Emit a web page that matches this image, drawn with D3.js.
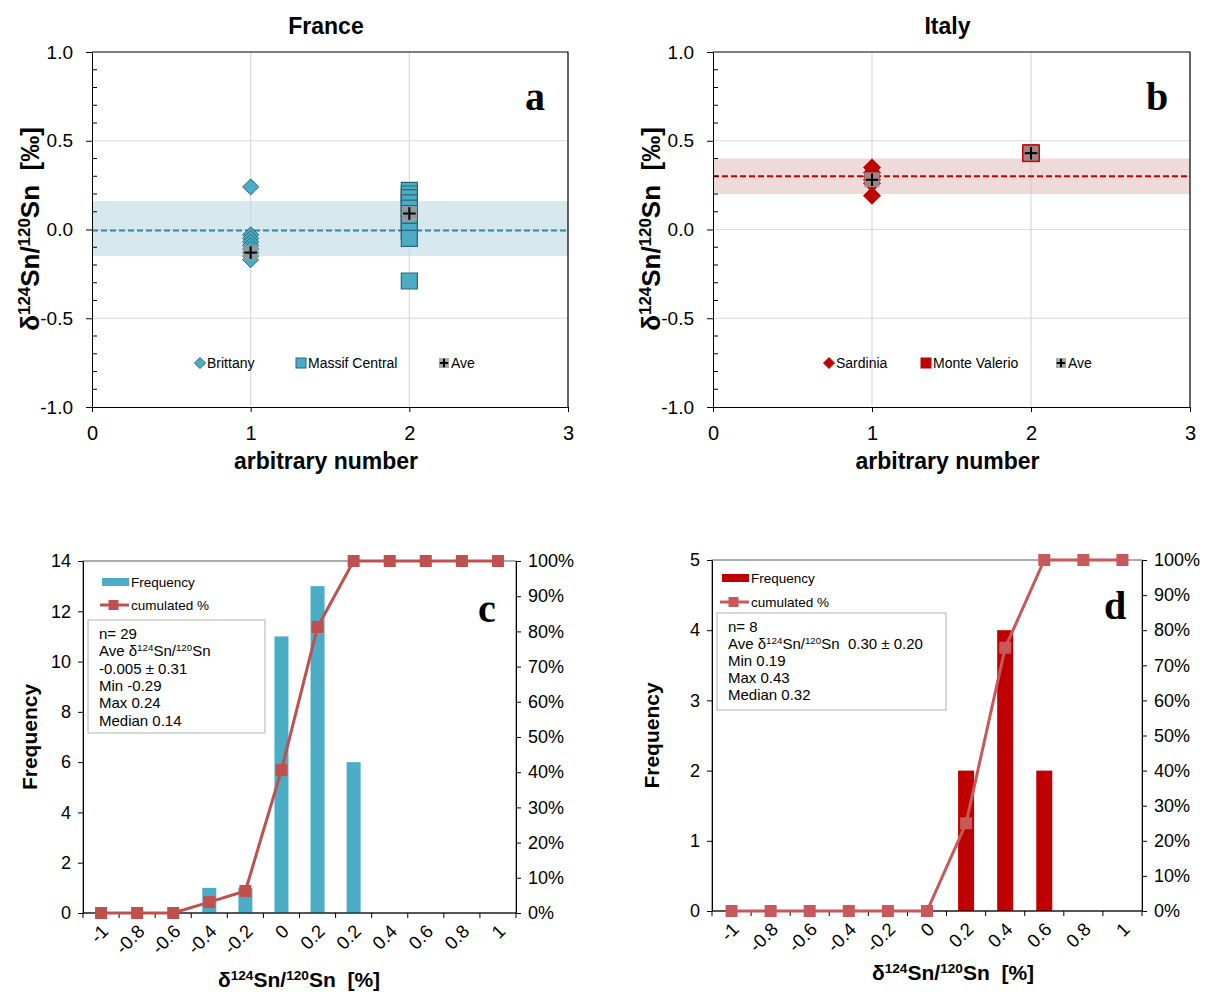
<!DOCTYPE html>
<html><head><meta charset="utf-8">
<script src="https://cdn.jsdelivr.net/npm/d3@7"></script>
<style>body{margin:0;background:#fff}svg{font-family:"Liberation Sans",Arial,sans-serif}</style>
</head><body>
<svg id="chart" width="1211" height="992"></svg>
<script>
// ---------- DATA ----------
const scatterXTicks = [0, 1, 2, 3];
const scatterYTicks = [-1, -0.5, 0, 0.5, 1];
// France (panel a)
const brittany = [0.24, -0.03, -0.05, -0.07, -0.09, -0.11, -0.13, -0.15, -0.17];
const massifCentral = [0.22, 0.20, 0.18, 0.15, 0.12, 0.09, 0.06, 0.03, -0.01, -0.05, -0.29];
const franceAveX = [1, 2];
const franceAve = [-0.13, 0.09];
const franceMean = -0.005;
const franceBand = [-0.15, 0.16];
// Italy (panel b)
const sardinia = [0.35, 0.32, 0.30, 0.28, 0.26, 0.19];
const monteValerio = [0.43];
const italyAveX = [1, 2];
const italyAve = [0.28, 0.43];
const italyMean = 0.30;
const italyBand = [0.20, 0.40];
// Histogram France (panel c)
const franceBins = ["-1", "-0.8", "-0.6", "-0.4", "-0.2", "0", "0.2", "0.2", "0.4", "0.6", "0.8", "1"];
const franceFreq = [0, 0, 0, 1, 1, 11, 13, 6, 0, 0, 0, 0];
const franceCum = [0, 0, 0, 0.031, 0.0625, 0.406, 0.8125, 1, 1, 1, 1, 1];
const franceFreqTicks = [0, 2, 4, 6, 8, 10, 12, 14];
// Histogram Italy (panel d)
const italyBins = ["-1", "-0.8", "-0.6", "-0.4", "-0.2", "0", "0.2", "0.4", "0.6", "0.8", "1"];
const italyFreq = [0, 0, 0, 0, 0, 0, 2, 4, 2, 0, 0];
const italyCum = [0, 0, 0, 0, 0, 0, 0.25, 0.75, 1, 1, 1];
const italyFreqTicks = [0, 1, 2, 3, 4, 5];
const pctTicks = [0, 0.1, 0.2, 0.3, 0.4, 0.5, 0.6, 0.7, 0.8, 0.9, 1];
// ---------- END DATA ----------

const NB = "\u00a0";
const svg = d3.select("#chart");

function rich(sel, parts) {
  parts.forEach(p => {
    if (typeof p === "string") sel.append("tspan").text(p);
    else sel.append("tspan").attr("baseline-shift", "super").attr("font-size", "65%").text(p.sup);
  });
  return sel;
}
const deltaParts = ["δ", {sup: "124"}, "Sn/", {sup: "120"}, "Sn"];

function diamondPath(r) { return `M0,${-r}L${r},0L0,${r}L${-r},0Z`; }

function aveMarker(g, cx, cy, s) {
  const m = g.append("g").attr("transform", `translate(${cx},${cy})`);
  m.append("rect").attr("x", -s/2).attr("y", -s/2).attr("width", s).attr("height", s)
    .attr("fill", "#9a9a9a").attr("fill-opacity", 0.85);
  const h = s * 0.42;
  m.append("line").attr("x1", -h).attr("x2", h).attr("stroke", "#000").attr("stroke-width", 2);
  m.append("line").attr("y1", -h).attr("y2", h).attr("stroke", "#000").attr("stroke-width", 2);
}

function styleAxis(g, size) {
  g.attr("font-family", null).attr("font-size", null);
  g.selectAll("text").attr("font-size", size).attr("fill", "#000");
  g.selectAll("line,path").attr("stroke", "#000");
}

function scatterPanel(cfg) {
  const g = svg.append("g");
  const x = d3.scaleLinear().domain([0, 3]).range([cfg.left, cfg.right]);
  const y = d3.scaleLinear().domain([-1, 1]).range([407, 52]);
  // grid
  g.selectAll(".vg").data([1, 2]).join("line")
    .attr("x1", d => x(d)).attr("x2", d => x(d)).attr("y1", y(1)).attr("y2", y(-1))
    .attr("stroke", "#d9d9d9").attr("stroke-width", 1.2);
  g.selectAll(".hg").data([-0.5, 0, 0.5]).join("line")
    .attr("x1", x(0)).attr("x2", x(3)).attr("y1", d => y(d)).attr("y2", d => y(d))
    .attr("stroke", "#d9d9d9").attr("stroke-width", 1.2);
  // band
  g.append("rect").attr("x", x(0)).attr("width", x(3) - x(0))
    .attr("y", y(cfg.band[1])).attr("height", y(cfg.band[0]) - y(cfg.band[1]))
    .attr("fill", cfg.bandColor).attr("fill-opacity", cfg.bandOpacity);
  g.append("line").attr("x1", x(0)).attr("x2", x(3)).attr("y1", y(cfg.mean)).attr("y2", y(cfg.mean))
    .attr("stroke", cfg.dashColor).attr("stroke-width", 2).attr("stroke-dasharray", "6,3");
  // axes
  const ya = g.append("g").attr("transform", `translate(${x(0)},0)`)
    .call(d3.axisLeft(y).tickValues(scatterYTicks).tickFormat(d => d.toFixed(1)).tickSize(6).tickSizeOuter(0).tickPadding(13));
  styleAxis(ya, "19px");
  g.selectAll(".minor").data(d3.range(-9, 10).filter(k => k % 5 !== 0).map(k => k / 10)).join("line")
    .attr("x1", x(0)).attr("x2", x(0) + 5).attr("y1", d => y(d)).attr("y2", d => y(d)).attr("stroke", "#000");
  const xa = g.append("g").attr("transform", `translate(0,${y(-1)})`)
    .call(d3.axisBottom(x).tickValues(scatterXTicks).tickFormat(d3.format("d")).tickSize(5).tickSizeOuter(0).tickPadding(14));
  styleAxis(xa, "20px");
  // frame top & right
  g.append("path").attr("d", `M${x(0)},${y(1)}H${x(3)}V${y(-1)}`).attr("fill", "none").attr("stroke", "#000").attr("stroke-width", 1.2);
  // series
  cfg.series.forEach(s => {
    g.selectAll(null).data(s.values).join("path")
      .attr("transform", d => `translate(${x(s.x)},${y(d)})`)
      .attr("d", s.shape === "diamond" ? diamondPath(s.size) : d3.symbol(d3.symbolSquare, s.size * s.size * 4)())
      .attr("fill", s.fill).attr("stroke", s.stroke).attr("stroke-width", s.sw || 1);
  });
  cfg.aveX.forEach((ax, i) => aveMarker(g, x(ax), y(cfg.ave[i]), 15));
  // titles
  g.append("text").attr("x", (x(0) + x(3)) / 2 - 4).attr("y", 34).attr("text-anchor", "middle")
    .attr("font-weight", "bold").attr("font-size", "23px").text(cfg.title);
  g.append("text").attr("x", (x(0) + x(3)) / 2 - 4).attr("y", 469).attr("text-anchor", "middle")
    .attr("font-weight", "bold").attr("font-size", "23px").text("arbitrary" + NB + "number");
  const yt = g.append("text").attr("transform", `translate(${x(0) - 53},229) rotate(-90)`)
    .attr("text-anchor", "middle").attr("font-weight", "bold").attr("font-size", "26px");
  rich(yt, [...deltaParts, NB + NB + "[‰]"]);
  g.append("text").attr("x", x(3) - 33).attr("y", 110).attr("text-anchor", "middle")
    .attr("font-family", "'Liberation Serif','Times New Roman',serif").attr("font-weight", "bold")
    .attr("font-size", "40px").text(cfg.letter);
  // legend
  const ly = 363;
  cfg.legend.forEach(L => {
    if (L.shape === "diamond") g.append("path").attr("transform", `translate(${L.mx},${ly})`).attr("d", diamondPath(5.5)).attr("fill", L.fill).attr("stroke", L.stroke);
    else if (L.shape === "square") g.append("rect").attr("x", L.mx - 5).attr("y", ly - 5).attr("width", 10).attr("height", 10).attr("fill", L.fill).attr("stroke", L.stroke);
    else aveMarker(g, L.mx, ly, 10);
    g.append("text").attr("x", L.mx + 7).attr("y", ly + 5).attr("font-size", "14px").text(L.text);
  });
}

scatterPanel({
  left: 92, right: 568, title: "France", letter: "a",
  band: franceBand, mean: franceMean, bandColor: "#bcd9e2", bandOpacity: 0.6, dashColor: "#2e8aa3",
  series: [
    {x: 1, values: brittany, shape: "diamond", size: 8, fill: "#4bacc6", stroke: "#2a6676"},
    {x: 2, values: massifCentral, shape: "square", size: 8, fill: "#4bacc6", stroke: "#2a6676", sw: 1.2}
  ],
  aveX: franceAveX, ave: franceAve,
  legend: [
    {mx: 200, shape: "diamond", fill: "#4bacc6", stroke: "#2a6676", text: "Brittany"},
    {mx: 301, shape: "square", fill: "#4bacc6", stroke: "#2a6676", text: "Massif Central"},
    {mx: 444, shape: "ave", text: "Ave"}
  ]
});

scatterPanel({
  left: 713, right: 1190, title: "Italy", letter: "b",
  band: italyBand, mean: italyMean, bandColor: "#dfb5b5", bandOpacity: 0.5, dashColor: "#c00000",
  series: [
    {x: 1, values: sardinia, shape: "diamond", size: 8.5, fill: "#c00000", stroke: "#c00000"},
    {x: 2, values: monteValerio, shape: "square", size: 8.5, fill: "#c00000", stroke: "#c00000"}
  ],
  aveX: italyAveX, ave: italyAve,
  legend: [
    {mx: 829, shape: "diamond", fill: "#c00000", stroke: "#c00000", text: "Sardinia"},
    {mx: 926, shape: "square", fill: "#c00000", stroke: "#c00000", text: "Monte Valerio"},
    {mx: 1061, shape: "ave", text: "Ave"}
  ]
});

function histPanel(cfg) {
  const g = svg.append("g");
  const x = d3.scaleBand().domain(d3.range(cfg.bins.length)).range([cfg.left, cfg.right]).padding(0);
  const bw = x.bandwidth();
  const y = d3.scaleLinear().domain([0, cfg.ymax]).range([cfg.bottom, cfg.top]);
  const y2 = d3.scaleLinear().domain([0, 1]).range([cfg.bottom, cfg.top]);
  // frame
  g.append("rect").attr("x", cfg.left).attr("y", cfg.top).attr("width", cfg.right - cfg.left).attr("height", cfg.bottom - cfg.top)
    .attr("fill", "none").attr("stroke", "#595959").attr("stroke-width", 1);
  // bars
  g.selectAll(".bar").data(cfg.freq).join("rect")
    .attr("x", (d, i) => x(i) + (bw - cfg.barW) / 2).attr("width", cfg.barW)
    .attr("y", d => y(d)).attr("height", d => y(0) - y(d)).attr("fill", cfg.barColor);
  // axes
  const ya = g.append("g").attr("transform", `translate(${cfg.left},0)`)
    .call(d3.axisLeft(y).tickValues(cfg.yticks).tickFormat(d3.format("d")).tickSize(5).tickSizeOuter(0).tickPadding(7));
  styleAxis(ya, "18px");
  const yb = g.append("g").attr("transform", `translate(${cfg.right},0)`)
    .call(d3.axisRight(y2).tickValues(pctTicks).tickFormat(d3.format(".0%")).tickSize(5).tickSizeOuter(0).tickPadding(7));
  styleAxis(yb, "18px");
  const bounds = x.domain().map(i => x(i)).concat([cfg.right]);
  g.append("line").attr("x1", cfg.left).attr("x2", cfg.right).attr("y1", cfg.bottom).attr("y2", cfg.bottom).attr("stroke", "#000").attr("stroke-width", 1.2);
  g.selectAll(".xt").data(bounds).join("line")
    .attr("x1", d => d).attr("x2", d => d).attr("y1", cfg.bottom).attr("y2", cfg.bottom + 5).attr("stroke", "#000");
  g.selectAll(".xl").data(cfg.bins).join("text")
    .attr("transform", (d, i) => `translate(${x(i) + bw / 2 + 4},${cfg.bottom + 15}) rotate(-45)`)
    .attr("text-anchor", "end").attr("dy", "0.35em").attr("font-size", "18.5px").text(d => d);
  // cumulative line
  const line = d3.line().x((d, i) => x(i) + bw / 2).y(d => y2(d));
  g.append("path").datum(cfg.cum).attr("d", line).attr("fill", "none").attr("stroke", cfg.lineColor).attr("stroke-width", 3);
  g.selectAll(".pt").data(cfg.cum).join("rect")
    .attr("x", (d, i) => x(i) + bw / 2 - 6).attr("y", d => y2(d) - 6).attr("width", 12).attr("height", 12)
    .attr("fill", cfg.lineColor);
  // titles
  g.append("text").attr("transform", `translate(${cfg.ytitleX},${(cfg.top + cfg.bottom) / 2}) rotate(-90)`)
    .attr("text-anchor", "middle").attr("font-weight", "bold").attr("font-size", "21px").text("Frequency");
  const xt = g.append("text").attr("x", cfg.xtitleX).attr("y", cfg.xtitleY).attr("text-anchor", "middle")
    .attr("font-weight", "bold").attr("font-size", "21px");
  rich(xt, [...deltaParts, NB + NB + "[%]"]);
  g.append("text").attr("x", cfg.letterX).attr("y", cfg.letterY).attr("text-anchor", "middle")
    .attr("font-family", "'Liberation Serif','Times New Roman',serif").attr("font-weight", "bold")
    .attr("font-size", "40px").text(cfg.letter);
  // legend
  const L = cfg.legend;
  g.append("rect").attr("x", L.x).attr("y", L.y1 - 4).attr("width", 27).attr("height", 8).attr("fill", cfg.barColor);
  g.append("text").attr("x", L.x + 29).attr("y", L.y1 + 5).attr("font-size", "13.5px").text("Frequency");
  g.append("line").attr("x1", L.x - 2).attr("x2", L.x + 27).attr("y1", L.y2).attr("y2", L.y2).attr("stroke", cfg.lineColor).attr("stroke-width", 3);
  g.append("rect").attr("x", L.x + 6.5).attr("y", L.y2 - 5).attr("width", 10).attr("height", 10).attr("fill", cfg.lineColor);
  g.append("text").attr("x", L.x + 29).attr("y", L.y2 + 5).attr("font-size", "13.5px").text("cumulated %");
  // stats box
  const B = cfg.box;
  g.append("rect").attr("x", B.x).attr("y", B.y).attr("width", B.w).attr("height", B.h)
    .attr("fill", "#fff").attr("stroke", "#bfbfbf").attr("stroke-width", 1.2);
  B.lines.forEach((ln, i) => {
    const t = g.append("text").attr("x", B.x + 11).attr("y", B.y + 19 + i * B.lh).attr("font-size", "15px");
    rich(t, ln);
  });
}

histPanel({
  left: 83, right: 516, top: 561, bottom: 913, ymax: 14, yticks: franceFreqTicks,
  bins: franceBins, freq: franceFreq, cum: franceCum, barW: 14,
  barColor: "#4bacc6", lineColor: "#c0504d", ytitleX: 37, xtitleX: 299, xtitleY: 987,
  letter: "c", letterX: 487, letterY: 622,
  legend: {x: 102, y1: 582, y2: 605},
  box: {x: 88, y: 620, w: 177, h: 113, lh: 17.3, lines: [
    ["n= 29"], ["Ave ", ...deltaParts], ["-0.005 ± 0.31"], ["Min -0.29"], ["Max 0.24"], ["Median 0.14"]
  ]}
});

histPanel({
  left: 712, right: 1142, top: 560, bottom: 911, ymax: 5, yticks: italyFreqTicks,
  bins: italyBins, freq: italyFreq, cum: italyCum, barW: 16,
  barColor: "#c00000", lineColor: "#c9585a", ytitleX: 659, xtitleX: 953, xtitleY: 980,
  letter: "d", letterX: 1115, letterY: 619,
  legend: {x: 722, y1: 578, y2: 602},
  box: {x: 717, y: 613, w: 229, h: 97, lh: 17, lines: [
    ["n= 8"], ["Ave ", ...deltaParts, NB + NB + "0.30 ± 0.20"], ["Min 0.19"], ["Max 0.43"], ["Median 0.32"]
  ]}
});
</script>
</body></html>
